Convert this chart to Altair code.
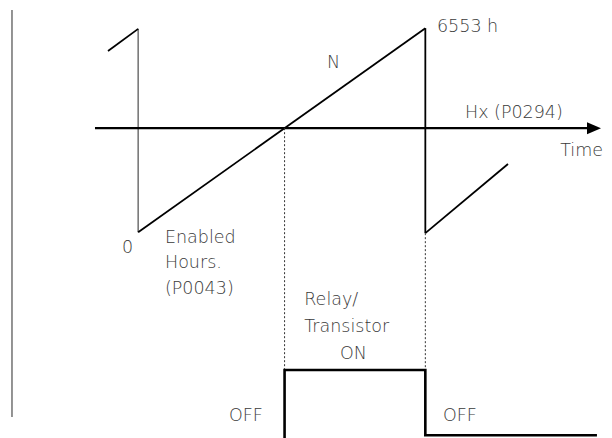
import altair as alt
import pandas as pd

# Diagram coordinate system: x = time (h), y = hour counter value (h)
T_MIN, T_MAX = -2970, 10630
V_MIN, V_MAX = -6607, 7200
HX = 3341          # Hx (P0294) threshold
NMAX = 6553        # counter maximum (6553 h)

# --- line segments (seg id, t, v) ---
ramp_seg = ["a", "a", "b", "b", "c", "c", "d", "d"]
ramp_t   = [-688, 0, 0, NMAX, NMAX, NMAX, NMAX, 8439]
ramp_v   = [5818, 6530, 0, NMAX, NMAX, -30, -30, 2190]

gray_seg = ["bar", "bar", "drop", "drop"]
gray_t   = [-2879, -2879, 0, 0]
gray_v   = [7135, -5934, 6530, 0]

axis_t = [-985, 10300]
axis_v = [HX, HX]
arrow_t = [10402]
arrow_v = [HX]

dot_seg = ["p", "p", "q", "q"]
dot_t   = [HX, HX, NMAX, NMAX]
dot_v   = [HX, -4425, -30, -4425]

sq_t = [HX, HX, NMAX, NMAX, 10469]
sq_v = [-6650, -4425, -4425, -6519, -6519]

# --- labels ---
lab_text = ["6553 h", "N", "Hx (P0294)", "Time", "0", "Enabled", "Hours.",
            "(P0043)", "Relay/", "Transistor", "ON", "OFF", "OFF"]
lab_t = [6819, 4309, 7458, 9630, -369, 612, 612, 612, 3790, 3790, 4606, 2073, 6956]
lab_v = [6600, 5433, 3843, 2607, -507, -186, -990, -1825, -2190, -3030, -3911, -5902, -5902]

xs = alt.Scale(domain=[T_MIN, T_MAX], nice=False, zero=False)
ys = alt.Scale(domain=[V_MIN, V_MAX], nice=False, zero=False)


def X():
    return alt.X("t:Q", scale=xs, axis=None)


def Y():
    return alt.Y("v:Q", scale=ys, axis=None)


ramp_df = pd.DataFrame({"seg": ramp_seg, "t": ramp_t, "v": ramp_v, "o": range(len(ramp_t))})
gray_df = pd.DataFrame({"seg": gray_seg, "t": gray_t, "v": gray_v, "o": range(len(gray_t))})
axis_df = pd.DataFrame({"t": axis_t, "v": axis_v})
arrow_df = pd.DataFrame({"t": arrow_t, "v": arrow_v})
dot_df = pd.DataFrame({"seg": dot_seg, "t": dot_t, "v": dot_v, "o": range(len(dot_t))})
sq_df = pd.DataFrame({"t": sq_t, "v": sq_v, "o": range(len(sq_t))})
lab_df = pd.DataFrame({"text": lab_text, "t": lab_t, "v": lab_v})

ramps = alt.Chart(ramp_df).mark_line(color="#000000", strokeWidth=1.8).encode(
    x=X(), y=Y(), detail="seg:N", order="o:Q")
grays = alt.Chart(gray_df).mark_line(color="#666666", strokeWidth=1.4).encode(
    x=X(), y=Y(), detail="seg:N", order="o:Q")
axis = alt.Chart(axis_df).mark_line(color="#000000", strokeWidth=2.2).encode(x=X(), y=Y())
arrow = alt.Chart(arrow_df).mark_point(
    shape="M-1,-0.85L1,0L-1,0.85Z", size=196, filled=True, opacity=1,
    color="#000000", strokeWidth=0).encode(x=X(), y=Y())
dots = alt.Chart(dot_df).mark_line(color="#333333", strokeWidth=1, strokeDash=[2, 2]).encode(
    x=X(), y=Y(), detail="seg:N", order="o:Q")
square = alt.Chart(sq_df).mark_line(color="#000000", strokeWidth=2.6, strokeJoin="miter").encode(
    x=X(), y=Y(), order="o:Q")
labels = alt.Chart(lab_df).mark_text(
    align="left", baseline="middle", font="DejaVu Sans", fontSize=17.5,
    fontWeight=300, color="#3a3a3a").encode(x=X(), y=Y(), text="text:N")

chart = alt.layer(grays, ramps, axis, arrow, dots, square, labels).properties(
    width=596, height=430,
    padding={"left": 0, "top": 0, "right": 0, "bottom": 0},
    autosize=alt.AutoSizeParams(type="none"),
).configure_view(stroke=None)

chart.save("out.html", embed_options={"renderer": "svg", "actions": False})
